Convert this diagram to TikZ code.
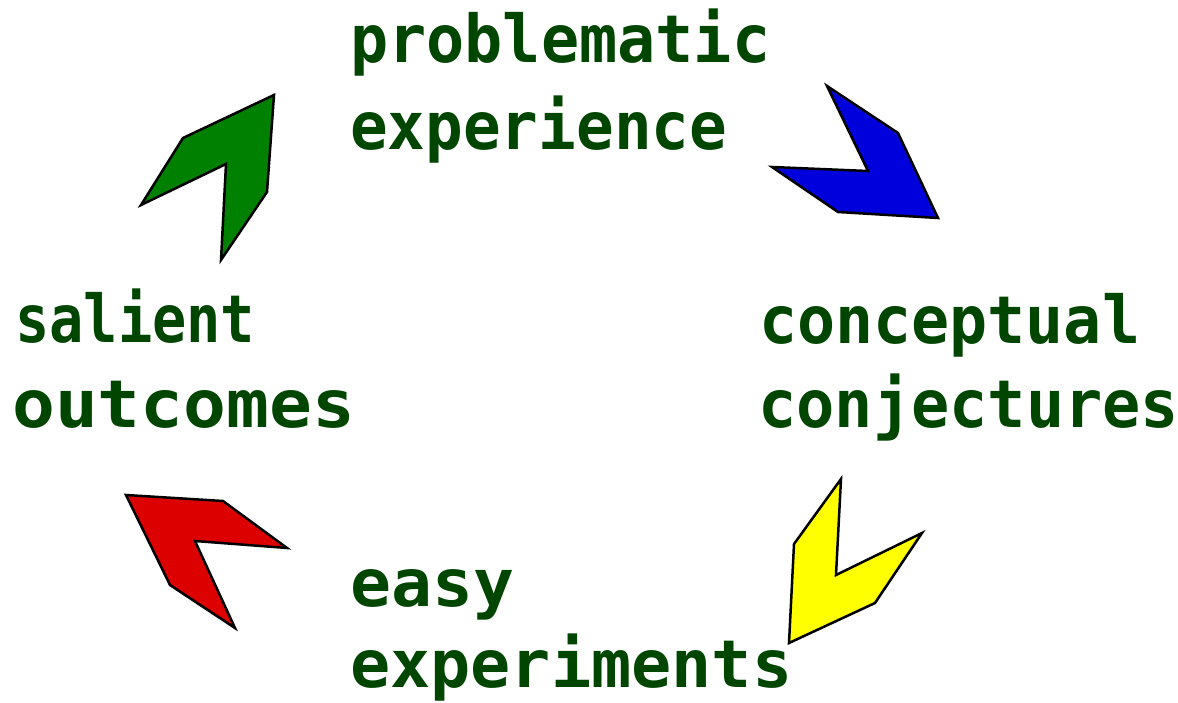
\documentclass[tikz,border=0pt]{standalone}
\usepackage{fontspec}
\usepackage{graphicx}
\setmonofont{DejaVu Sans Mono}
\definecolor{txtgreen}{RGB}{0,70,0}
\definecolor{agreen}{RGB}{0,128,0}
\definecolor{ablue}{RGB}{0,0,220}
\definecolor{ayellow}{RGB}{255,255,0}
\definecolor{ared}{RGB}{220,0,0}
\newcommand\fitw[2]{\resizebox{#1pt}{\height}{#2}}
\begin{document}
\begin{tikzpicture}[x=1pt,y=-1pt,
  lbl/.style={anchor=base west,inner sep=0pt,text=txtgreen,font=\ttfamily\bfseries\fontsize{66}{80}\selectfont},
  shp/.style={draw=black,line width=2.5pt,line join=miter}]
\useasboundingbox (0,0) rectangle (1178,703);
% labels
\node[lbl] (prob1) at (350,63) {\fitw{420}{problematic}};
\node[lbl] (prob2) at (350,150) {\fitw{377}{experience}};
\node[lbl] (sal1) at (15,343) {\fitw{240}{salient}};
\node[lbl] (sal2) at (12,427) {\fitw{343}{outcomes}};
\node[lbl] (con1) at (759,343) {\fitw{381}{conceptual}};
\node[lbl] (con2) at (758,427) {\fitw{421}{conjectures}};
\node[lbl] (eas1) at (350,606) {\fitw{164}{easy}};
\node[lbl] (eas2) at (350,687) {\fitw{442}{experiments}};
% arrows
\draw[shp,fill=agreen] (274,95) -- (183,138) -- (141,205) -- (226,164) -- (221,260) -- (267,192) -- cycle;
\draw[shp,fill=ablue] (827,86) -- (898,133) -- (938,218) -- (838,212) -- (772,167) -- (868,171) -- cycle;
\draw[shp,fill=ayellow] (841,479) -- (794,544) -- (789,643) -- (875,603) -- (922,533) -- (836,575) -- cycle;
\draw[shp,fill=ared] (126,495) -- (223,501) -- (287,548) -- (195,541) -- (235,628) -- (170,585) -- cycle;
\end{tikzpicture}
\end{document}
